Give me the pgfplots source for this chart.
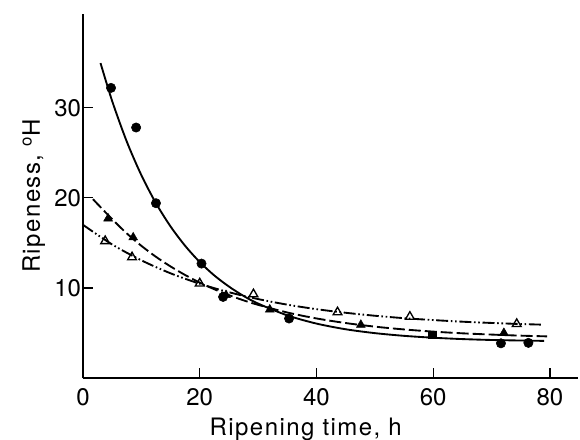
\documentclass[border=0pt]{standalone}
\usepackage{pgfplots}
\pgfplotsset{compat=1.18}
\usepackage{fontspec}
\setmainfont{TeX Gyre Heros}
\newfontfamily\lblfont{TeX Gyre Heros}[LetterSpace=6]
\begin{document}
\begin{tikzpicture}
\begin{axis}[
  width=371.25pt, height=273pt, scale only axis,
  xmin=0, xmax=84.8, ymin=0, ymax=40.4,
  axis x line=bottom, axis y line=left,
  axis line style={-, line width=1pt},
  xtick={0,20,40,60,80}, ytick={10,20,30},
  tick align=inside, major tick length=7.5pt,
  tick style={line width=1pt, black},
  /pgf/number format/assume math mode=true,
  ticklabel style={font=\fontsize{18}{21}\selectfont},
  xticklabel style={yshift=-4pt},
  yticklabel style={xshift=2pt},
  label style={font=\lblfont\fontsize{18}{21}\selectfont},
  xlabel={Ripening time, h},
  ylabel={Ripeness, \textsuperscript{o}H},
  xlabel style={at={(ticklabel cs:0.45)}, anchor=near ticklabel, yshift=-2.5pt},
  ylabel style={yshift=0pt},
  clip=false,
]
% solid curve (filled circles)
\addplot[black, line width=1.4pt, smooth] coordinates {
(3,34.96)(5,30.73)(7.5,26.24)(10,22.51)(12.5,19.40)(15,16.82)(17.5,14.67)(20,12.87)(22.5,11.38)(25,10.15)(27.5,9.11)(30,8.26)(35,6.95)(40,6.04)(45,5.41)(50,4.98)(55,4.68)(60,4.47)(65,4.32)(70,4.22)(75,4.16)(79,4.12)};
% dashed curve (filled triangles)
\addplot[black, line width=1.4pt, smooth, dash pattern=on 9pt off 3pt] coordinates {
(1.7,19.85)(5,17.62)(7.5,16.05)(10,14.67)(12.5,13.45)(15,12.38)(17.5,11.43)(20,10.59)(22.5,9.85)(25,9.20)(27.5,8.62)(30,8.12)(35,7.27)(40,6.61)(45,6.10)(50,5.70)(55,5.39)(60,5.15)(65,4.96)(70,4.82)(75,4.70)(79.5,4.62)};
% dash-dot-dot curve (open triangles)
\addplot[black, line width=1.4pt, smooth, dash pattern=on 9pt off 2pt on 1.2pt off 2pt on 1.2pt off 2pt] coordinates {
(0,17.0)(5,14.82)(10,13.06)(15,11.62)(20,10.46)(25,9.52)(30,8.76)(35,8.14)(40,7.64)(45,7.24)(50,6.91)(55,6.64)(60,6.43)(65,6.25)(70,6.11)(75,5.99)(78.8,5.92)};
% markers
\addplot[only marks, mark=*, mark size=3.5pt, black] coordinates {
(4.8,32.2)(9.1,27.8)(12.5,19.4)(20.3,12.7)(24.0,9.0)(35.3,6.6)(71.6,3.85)(76.3,3.9)};
\addplot[only marks, mark=triangle*, mark size=3.8pt, black] coordinates {
(4.3,17.7)(8.6,15.6)(24.5,9.2)(32.0,7.6)(47.6,5.9)(72.1,5.0)};
\addplot[only marks, mark=square*, mark size=2.8pt, black] coordinates {
(59.8,4.8)};
\addplot[only marks, mark=triangle, mark size=3.8pt, black, mark options={line width=1pt, fill=white}] coordinates {
(3.8,15.2)(8.4,13.4)(20.0,10.5)(29.2,9.3)(43.6,7.3)(56.0,6.8)(74.3,6.0)};
\end{axis}
\pgfresetboundingbox
\useasboundingbox (-62.25pt,-45.75pt) rectangle (372.75pt,283.5pt);
\end{tikzpicture}
\end{document}
